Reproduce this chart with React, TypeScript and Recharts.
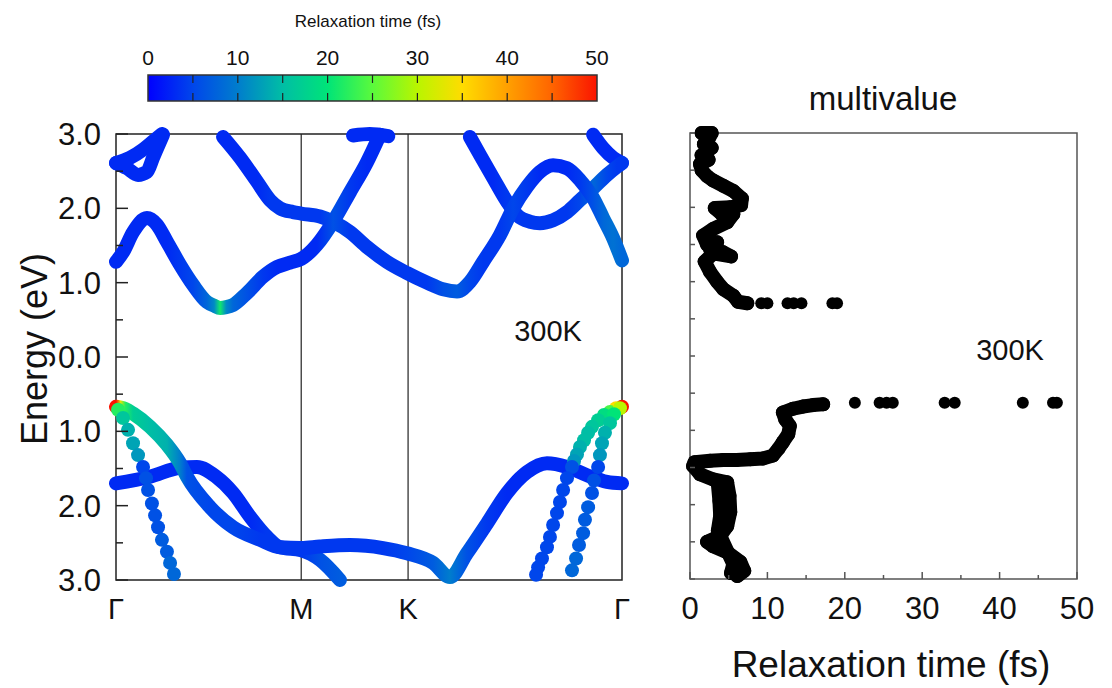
import React from "react";
import {
  ComposedChart,
  BarChart,
  Bar,
  Line,
  Scatter,
  XAxis,
  YAxis,
  ReferenceLine,
  ReferenceArea,
} from "recharts";

const FONT = "'Liberation Sans', Arial, sans-serif";

// high-symmetry points on the path (Γ-M = 1)
const kPoints = [0, 1, 1.577, 2.732];
const kLabels = ["Γ", "M", "K", "Γ"];
const energyTicks = [-3, -2.5, -2, -1.5, -1, -0.5, 0, 0.5, 1, 1.5, 2, 2.5, 3];
const tauTicks = [0, 5, 10, 15, 20, 25, 30, 35, 40, 45, 50];
const barTicks = [0, 10, 20, 30, 40, 50];
const barMarks = [5, 10, 15, 20, 25, 30, 35, 40, 45];
const barData = [{ name: "tau", v: 50 }];

// bands: [k, E (eV), relaxation time (fs)]
type Pt = [number, number, number];

const cb1: Pt[] = [
  [0, 1.28, 3], [0.038, 1.41, 3], [0.092, 1.68, 3], [0.167, 1.87, 3],
  [0.221, 1.78, 3], [0.275, 1.55, 3], [0.346, 1.24, 4], [0.416, 0.97, 5],
  [0.491, 0.74, 8], [0.53, 0.69, 11], [0.562, 0.66, 21], [0.595, 0.67, 11],
  [0.632, 0.7, 8], [0.707, 0.86, 6], [0.794, 1.08, 4], [0.869, 1.21, 3],
  [0.94, 1.27, 3], [1.0, 1.32, 3], [1.085, 1.51, 3], [1.172, 1.82, 6],
  [1.264, 2.22, 4], [1.355, 2.62, 3], [1.425, 2.99, 3],
];
const cb2: Pt[] = [
  [0.578, 2.96, 3], [0.67, 2.68, 3], [0.761, 2.36, 3], [0.832, 2.11, 4],
  [0.886, 2.0, 4], [0.956, 1.95, 4], [1.0, 1.93, 4], [1.102, 1.89, 4],
  [1.172, 1.82, 6], [1.264, 1.68, 4], [1.355, 1.48, 4], [1.463, 1.28, 4],
  [1.571, 1.13, 4], [1.679, 1.0, 4], [1.766, 0.91, 6], [1.841, 0.88, 7],
  [1.911, 1.01, 5], [1.982, 1.28, 4], [2.073, 1.64, 4], [2.144, 2.0, 5],
  [2.219, 2.29, 4], [2.289, 2.49, 3], [2.36, 2.58, 3], [2.435, 2.54, 3],
  [2.505, 2.38, 4], [2.576, 2.14, 6], [2.63, 1.87, 8], [2.684, 1.6, 9],
  [2.732, 1.3, 8],
];
const cb3: Pt[] = [
  [1.911, 2.96, 3], [1.965, 2.72, 3], [2.036, 2.41, 3], [2.111, 2.09, 4],
  [2.165, 1.91, 4], [2.235, 1.82, 4], [2.289, 1.8, 4], [2.36, 1.84, 4],
  [2.435, 1.95, 4], [2.505, 2.11, 5], [2.576, 2.27, 8], [2.651, 2.45, 5],
  [2.705, 2.56, 4], [2.732, 2.61, 4],
];
const cb4: Pt[] = [[2.576, 2.99, 3], [2.63, 2.81, 3], [2.684, 2.68, 3], [2.732, 2.61, 3]];
const cb5: Pt[] = [[0, 2.61, 3], [0.076, 2.68, 3], [0.146, 2.79, 3], [0.2, 2.9, 3], [0.248, 3.0, 3]];
const cb6: Pt[] = [
  [0, 2.61, 3], [0.059, 2.54, 3], [0.119, 2.45, 3], [0.167, 2.49, 3],
  [0.2, 2.68, 3], [0.238, 2.9, 3], [0.254, 2.99, 3],
];
const cb7: Pt[] = [[1.28, 2.98, 3], [1.37, 3.0, 3], [1.47, 2.97, 3]];

const vb1: Pt[] = [
  [0, -0.67, 50], [0.025, -0.68, 33], [0.05, -0.7, 22], [0.092, -0.76, 17],
  [0.184, -0.94, 15], [0.275, -1.18, 14], [0.346, -1.43, 10], [0.383, -1.61, 6],
  [0.508, -2.02, 5], [0.632, -2.29, 5], [0.778, -2.46, 4], [0.886, -2.56, 4],
  [1.0, -2.57, 4], [1.1, -2.55, 4], [1.264, -2.53, 4], [1.442, -2.57, 4],
  [1.571, -2.64, 5], [1.712, -2.77, 7], [1.803, -2.96, 10], [1.895, -2.64, 6],
  [2.003, -2.24, 4], [2.111, -1.83, 3], [2.219, -1.55, 3], [2.327, -1.43, 3],
  [2.435, -1.48, 3], [2.543, -1.59, 3], [2.651, -1.68, 3], [2.732, -1.7, 3],
];
const vb2: Pt[] = [
  [0, -1.7, 3], [0.184, -1.61, 3], [0.346, -1.49, 3], [0.437, -1.48, 3],
  [0.54, -1.61, 3], [0.632, -1.83, 3], [0.724, -2.15, 3], [0.815, -2.42, 4],
  [0.886, -2.56, 4], [1.0, -2.6, 4], [1.102, -2.73, 6], [1.209, -3.0, 7],
];

// steep bands, drawn as separate k-points
const dl: Pt[] = [
  [0.011, -0.71, 22], [0.038, -0.82, 16], [0.065, -0.98, 14], [0.092, -1.16, 13],
  [0.119, -1.32, 12], [0.146, -1.48, 5], [0.162, -1.63, 6], [0.173, -1.79, 6],
  [0.194, -1.97, 6], [0.211, -2.13, 6], [0.227, -2.29, 6], [0.248, -2.46, 7],
  [0.275, -2.62, 7], [0.292, -2.77, 8], [0.313, -2.92, 8],
];
const dr1: Pt[] = [
  [2.732, -0.67, 50], [2.7, -0.69, 35], [2.667, -0.74, 24], [2.635, -0.78, 19],
  [2.603, -0.85, 17], [2.57, -0.94, 16], [2.549, -1.02, 15], [2.527, -1.12, 15],
  [2.505, -1.21, 14], [2.489, -1.31, 13], [2.473, -1.4, 12], [2.462, -1.48, 6],
  [2.435, -1.63, 5], [2.414, -1.79, 5], [2.397, -1.95, 5], [2.381, -2.1, 5],
  [2.36, -2.26, 5], [2.343, -2.42, 5], [2.327, -2.56, 5], [2.3, -2.71, 5],
  [2.279, -2.83, 5], [2.268, -2.93, 5],
];
const dr2: Pt[] = [
  [2.721, -0.69, 30], [2.689, -0.77, 20], [2.667, -0.89, 16], [2.64, -1.02, 14],
  [2.624, -1.16, 13], [2.613, -1.32, 12], [2.603, -1.48, 5], [2.581, -1.66, 6],
  [2.57, -1.83, 6], [2.549, -2.02, 7], [2.532, -2.19, 7], [2.522, -2.37, 7],
  [2.5, -2.53, 7], [2.484, -2.71, 8], [2.462, -2.87, 8],
];

// right panel: [relaxation time (fs), E (eV)]
const condChain = [
  [1.5, 3.0], [2.8, 3.0], [2.4, 2.92], [1.8, 2.85], [2.8, 2.8], [1.5, 2.7],
  [2.4, 2.64], [1.3, 2.58], [1.5, 2.5], [2.2, 2.42], [3.0, 2.36], [4.3, 2.29],
  [5.6, 2.22], [6.7, 2.12], [6.6, 2.03], [5.2, 2.0], [3.2, 1.99], [4.0, 1.92],
  [5.6, 1.91], [4.8, 1.8], [3.0, 1.71], [1.7, 1.62], [2.2, 1.5], [3.5, 1.53],
  [2.6, 1.44], [4.2, 1.4], [5.3, 1.34], [3.0, 1.38], [1.9, 1.27], [2.6, 1.13],
  [3.5, 1.0], [4.3, 0.9], [5.6, 0.81], [6.2, 0.73], [7.4, 0.71],
];
const condDots = [
  [9.2, 0.71], [10.0, 0.71], [12.6, 0.71], [13.4, 0.71], [14.4, 0.71],
  [18.4, 0.71], [19.0, 0.71],
];
const valChain = [
  [17.2, -0.65], [15.9, -0.66], [14.6, -0.68], [13.3, -0.71], [12.0, -0.76],
  [12.3, -0.85], [12.9, -0.94], [12.7, -1.05], [12.0, -1.16], [11.4, -1.25],
  [10.7, -1.34], [9.4, -1.38], [7.8, -1.39], [6.0, -1.4], [4.3, -1.4],
  [2.6, -1.41], [0.6, -1.43], [0.4, -1.48], [1.3, -1.59], [3.0, -1.66],
  [4.8, -1.7], [5.1, -1.88], [5.2, -2.1], [4.8, -2.29], [3.9, -2.42],
  [2.2, -2.5], [3.0, -2.56], [4.8, -2.64], [6.5, -2.77], [7.0, -2.89], [6.1, -2.96],
];
const valFill = [[3.6, -1.72], [3.8, -1.95], [3.9, -2.15], [3.6, -2.35], [5.6, -2.8], [5.3, -2.92]];
const valDots = [
  [21.3, -0.63], [24.5, -0.63], [25.4, -0.63], [26.2, -0.63], [32.9, -0.63],
  [34.2, -0.63], [43.0, -0.63], [46.9, -0.63], [47.4, -0.63],
];

// colour scale of the colour bar
const jet: [number, number[]][] = [
  [0, [0, 0, 255]], [5, [0, 70, 235]], [10, [0, 125, 205]], [15, [0, 190, 165]],
  [20, [0, 228, 120]], [25, [90, 250, 60]], [30, [185, 245, 0]], [35, [255, 220, 0]],
  [40, [255, 160, 0]], [45, [255, 100, 0]], [50, [250, 20, 0]],
];

const tauColor = (t: number) => {
  const v = Math.max(0, Math.min(50, t));
  let i = 0;
  while (i < jet.length - 2 && v > jet[i + 1][0]) i++;
  const [t0, c0] = jet[i];
  const [t1, c1] = jet[i + 1];
  const f = (v - t0) / (t1 - t0);
  const c = c0.map((a, j) => Math.round(a + (c1[j] - a) * f));
  return `rgb(${c[0]},${c[1]},${c[2]})`;
};

const toRows = (band: Pt[]) => band.map(([k, e, tau]) => ({ k, e, tau }));
const toXY = (pts: number[][]) => pts.map(([t, e]) => ({ t, e }));

const lineBands: Record<string, Pt[]> = { cb5, cb6, cb7, cb4, cb3, cb2, cb1, vb2, vb1 };
const dotBands: Record<string, Pt[]> = { dl, dr1, dr2 };

const BandGradient = ({ id, band }: { id: string; band: Pt[] }) => {
  const k0 = band[0][0];
  const k1 = band[band.length - 1][0];
  return (
    <linearGradient id={id} x1="0" y1="0" x2="1" y2="0">
      {band.map(([k, , tau], i) => (
        <stop key={i} offset={(k - k0) / (k1 - k0)} stopColor={tauColor(tau)} />
      ))}
    </linearGradient>
  );
};

const isMajor = (v: number) => Math.abs(v - Math.round(v)) < 1e-6;

const Caption = ({ x, y, size, rotate, children }: any) => (
  <div
    style={{
      position: "absolute",
      left: x,
      top: y,
      transform: `translate(-50%, -50%)${rotate ? " rotate(-90deg)" : ""}`,
      fontSize: size,
      fontFamily: FONT,
      lineHeight: 1,
      whiteSpace: "nowrap",
      color: "#111",
    }}
  >
    {children}
  </div>
);

const BandChart = () => (
  <ComposedChart width={640} height={688} margin={{ top: 134, right: 18, bottom: 0, left: 0 }}>
    <defs>
      {Object.entries(lineBands).map(([name, band]) => (
        <BandGradient key={name} id={`grad-${name}`} band={band} />
      ))}
    </defs>
    <XAxis
      xAxisId="k"
      dataKey="k"
      type="number"
      domain={[0, 2.732]}
      ticks={kPoints}
      interval={0}
      height={108}
      axisLine={false}
      tickLine={false}
      tickSize={0}
      tickMargin={0}
      tick={({ x, y, payload }: any) => (
        <text x={x} y={y + 39} textAnchor="middle" fontSize={29} fontFamily={FONT} fill="#111">
          {kLabels[kPoints.indexOf(payload.value)]}
        </text>
      )}
    />
    <YAxis
      yAxisId="e"
      dataKey="e"
      type="number"
      domain={[-3, 3]}
      ticks={energyTicks}
      interval={0}
      width={116}
      axisLine={false}
      tickLine={false}
      tickSize={0}
      tickMargin={0}
      tick={({ x, y, payload }: any) => (
        <g>
          <line x1={x} x2={x + (isMajor(payload.value) ? 12 : 7)} y1={y} y2={y} stroke="#222" strokeWidth={1.5} />
          {isMajor(payload.value) && (
            <text x={x - 15} y={y} dy="0.36em" textAnchor="end" fontSize={31} fontFamily={FONT} fill="#111">
              {Math.abs(payload.value).toFixed(1)}
            </text>
          )}
        </g>
      )}
    />
    <YAxis
      yAxisId="edge"
      orientation="right"
      type="number"
      domain={[-3, 3]}
      ticks={energyTicks}
      interval={0}
      width={0}
      axisLine={false}
      tickLine={false}
      tickSize={0}
      tickMargin={0}
      tick={({ x, y, payload }: any) => (
        <line x1={x} x2={x - (isMajor(payload.value) ? 12 : 7)} y1={y} y2={y} stroke="#222" strokeWidth={1.5} />
      )}
    />
    <ReferenceArea xAxisId="k" yAxisId="e" x1={0} x2={2.732} y1={-3} y2={3} fill="none" stroke="#222" strokeWidth={1.5} />
    <ReferenceLine xAxisId="k" yAxisId="e" x={kPoints[1]} stroke="#222" strokeWidth={1.2} />
    <ReferenceLine xAxisId="k" yAxisId="e" x={kPoints[2]} stroke="#222" strokeWidth={1.2} />
    {Object.entries(lineBands).map(([name, band]) => (
      <Line
        key={name}
        xAxisId="k"
        yAxisId="e"
        data={toRows(band)}
        dataKey="e"
        type="monotone"
        stroke={`url(#grad-${name})`}
        strokeWidth={14}
        strokeLinecap="round"
        strokeLinejoin="round"
        dot={false}
        activeDot={false}
        isAnimationActive={false}
      />
    ))}
    {Object.entries(dotBands).map(([name, band]) => (
      <Scatter
        key={name}
        xAxisId="k"
        yAxisId="e"
        data={toRows(band)}
        isAnimationActive={false}
        shape={(p: any) => <circle cx={p.cx} cy={p.cy} r={7} fill={tauColor(p.payload.tau)} />}
      />
    ))}
  </ComposedChart>
);

const chainDot = (p: any) => <circle cx={p.cx} cy={p.cy} r={7} fill="#000" />;
const blackDot = (p: any) => <circle cx={p.cx} cy={p.cy} r={6} fill="#000" />;
const chainLine = { stroke: "#000", strokeWidth: 14, strokeLinejoin: "round", strokeLinecap: "round" };

const TauChart = () => (
  <ComposedChart width={472} height={688} margin={{ top: 133, right: 35, bottom: 0, left: 0 }}>
    <XAxis
      xAxisId="t"
      dataKey="t"
      type="number"
      domain={[0, 50]}
      ticks={tauTicks}
      interval={0}
      height={109}
      axisLine={false}
      tickLine={false}
      tickSize={0}
      tickMargin={0}
      tick={({ x, y, payload }: any) => (
        <g>
          <line x1={x} x2={x} y1={y} y2={y - (isMajor(payload.value / 10) ? 7 : 4)} stroke="#555" strokeWidth={1.5} />
          {isMajor(payload.value / 10) && (
            <text x={x} y={y + 40} textAnchor="middle" fontSize={31} fontFamily={FONT} fill="#111">
              {payload.value}
            </text>
          )}
        </g>
      )}
    />
    <XAxis
      xAxisId="top"
      orientation="top"
      type="number"
      domain={[0, 50]}
      ticks={tauTicks}
      interval={0}
      height={0}
      axisLine={false}
      tickLine={false}
      tickSize={0}
      tickMargin={0}
      tick={({ x, y }: any) => <line x1={x} x2={x} y1={y} y2={y + 4} stroke="#555" strokeWidth={1.5} />}
    />
    <YAxis
      yAxisId="e"
      dataKey="e"
      type="number"
      domain={[-3, 3]}
      ticks={energyTicks}
      interval={0}
      width={50}
      axisLine={false}
      tickLine={false}
      tickSize={0}
      tickMargin={0}
      tick={({ x, y }: any) => <line x1={x} x2={x + 5} y1={y} y2={y} stroke="#555" strokeWidth={1.5} />}
    />
    <YAxis
      yAxisId="edge"
      orientation="right"
      type="number"
      domain={[-3, 3]}
      ticks={energyTicks}
      interval={0}
      width={0}
      axisLine={false}
      tickLine={false}
      tickSize={0}
      tickMargin={0}
      tick={({ x, y }: any) => <line x1={x} x2={x - 5} y1={y} y2={y} stroke="#555" strokeWidth={1.5} />}
    />
    <ReferenceArea xAxisId="t" yAxisId="e" x1={0} x2={50} y1={-3} y2={3} fill="none" stroke="#555" strokeWidth={1.5} />
    <Scatter xAxisId="t" yAxisId="e" data={toXY(condChain)} line={chainLine} lineType="joint" shape={chainDot} isAnimationActive={false} />
    <Scatter xAxisId="t" yAxisId="e" data={toXY(valChain)} line={chainLine} lineType="joint" shape={chainDot} isAnimationActive={false} />
    <Scatter xAxisId="t" yAxisId="e" data={toXY(valFill)} line={chainLine} lineType="joint" shape={chainDot} isAnimationActive={false} />
    <Scatter xAxisId="t" yAxisId="e" data={toXY(condDots)} shape={blackDot} isAnimationActive={false} />
    <Scatter xAxisId="t" yAxisId="e" data={toXY(valDots)} shape={blackDot} isAnimationActive={false} />
  </ComposedChart>
);

const ColorBar = () => (
  <BarChart
    width={640}
    height={110}
    layout="vertical"
    data={barData}
    barCategoryGap={0}
    margin={{ top: 45, right: 43, bottom: 9, left: 148 }}
  >
    <defs>
      <linearGradient id="jet" x1="0" y1="0" x2="1" y2="0">
        {jet.map(([t, c]) => (
          <stop key={t} offset={t / 50} stopColor={`rgb(${c[0]},${c[1]},${c[2]})`} />
        ))}
      </linearGradient>
    </defs>
    <XAxis
      type="number"
      orientation="top"
      domain={[0, 50]}
      ticks={barTicks}
      interval={0}
      height={30}
      axisLine={false}
      tickLine={false}
      tickSize={0}
      tickMargin={0}
      tick={({ x, y, payload }: any) => (
        <text x={x} y={y - 10} textAnchor="middle" fontSize={21} fontFamily={FONT} fill="#111">
          {payload.value}
        </text>
      )}
    />
    <YAxis type="category" dataKey="name" hide />
    <Bar dataKey="v" fill="url(#jet)" stroke="#333" strokeWidth={1.5} isAnimationActive={false} />
    {barMarks.map((m) => (
      <ReferenceLine key={m} x={m} stroke="#222" strokeWidth={1.2} strokeDasharray="8 10 8" />
    ))}
  </BarChart>
);

export default function App() {
  return (
    <div style={{ position: "absolute", left: 0, top: 0, width: 1112, height: 688, background: "#fff", overflow: "hidden" }}>
      <div style={{ position: "absolute", left: 0, top: 0 }}>
        <BandChart />
      </div>
      <div style={{ position: "absolute", left: 640, top: 0 }}>
        <TauChart />
      </div>
      <div style={{ position: "absolute", left: 0, top: 0 }}>
        <ColorBar />
      </div>
      <Caption x={368} y={21} size={17}>Relaxation time (fs)</Caption>
      <Caption x={35} y={349} size={36} rotate>Energy (eV)</Caption>
      <Caption x={548} y={331} size={29}>300K</Caption>
      <Caption x={1010} y={350} size={29}>300K</Caption>
      <Caption x={883} y={98} size={33}>multivalue</Caption>
      <Caption x={891} y={664} size={37}>Relaxation time (fs)</Caption>
    </div>
  );
}
